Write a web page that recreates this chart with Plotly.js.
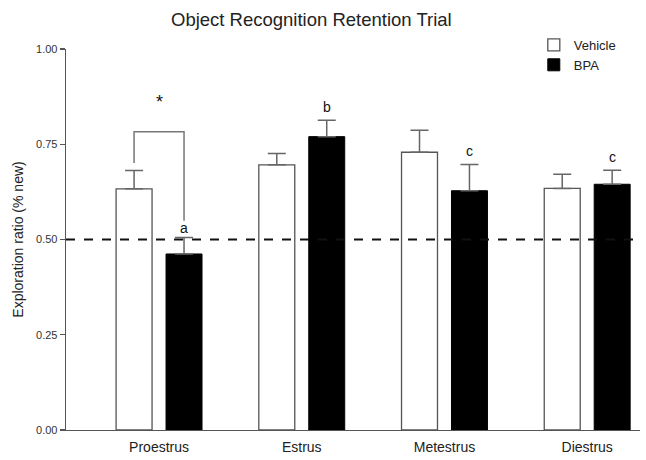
<!DOCTYPE html>
<html>
<head>
<meta charset="utf-8">
<script src="https://cdn.plot.ly/plotly-3.0.1.min.js"></script>
<style>
  html, body { margin: 0; padding: 0; background: #fff; }
  #chart { width: 646px; height: 460px; }
</style>
</head>
<body>
<div id="chart"></div>
<script>
// Estrous cycle phases on the x axis
const phases = ["Proestrus", "Estrus", "Metestrus", "Diestrus"];

// Mean exploration ratio per group and its SEM (upper bar only)
const vehicleMean = [0.633, 0.696, 0.729, 0.634];
const vehicleSem  = [0.048, 0.030, 0.058, 0.037];
const bpaMean     = [0.462, 0.770, 0.628, 0.645];
const bpaSem      = [0.043, 0.043, 0.069, 0.037];

// Significance letters over the BPA bars
const bpaLetters = ["a", "b", "c", "c"];

// Chance level
const chanceLevel = 0.5;

const fontFamily = "Liberation Sans, Arial, sans-serif";
const halfGroup = 0.175;   // offset of each bar from its category centre

const vehicle = {
  type: "bar",
  name: "Vehicle",
  x: phases,
  y: vehicleMean,
  marker: { color: "#ffffff", line: { color: "#555555", width: 1.3 } },
  error_y: {
    type: "data", symmetric: false,
    array: vehicleSem, arrayminus: vehicleMean.map(() => 0),
    color: "#666666", thickness: 1.5, width: 9
  },
  hoverinfo: "skip"
};

const bpa = {
  type: "bar",
  name: "BPA",
  x: phases,
  y: bpaMean,
  marker: { color: "#000000", line: { color: "#000000", width: 1 } },
  error_y: {
    type: "data", symmetric: false,
    array: bpaSem, arrayminus: bpaMean.map(() => 0),
    color: "#666666", thickness: 1.5, width: 9
  },
  hoverinfo: "skip"
};

// Bracket comparing Vehicle vs BPA in proestrus
const vTop = vehicleMean[0] + vehicleSem[0];
const bTop = bpaMean[0] + bpaSem[0];
const bracketY = 0.783;
const shapes = [
  {
    type: "line", xref: "paper", yref: "y",
    x0: 0, x1: 1, y0: chanceLevel, y1: chanceLevel,
    line: { color: "#111111", width: 2, dash: "dash" }
  },
  {
    type: "path", xref: "x", yref: "y",
    path: `M ${-halfGroup} ${vTop + 0.02} L ${-halfGroup} ${bracketY} ` +
          `L ${halfGroup} ${bracketY} L ${halfGroup} ${bTop + 0.044}`,
    line: { color: "#777777", width: 1.5 }
  }
];

const annotations = [
  {
    x: 0, y: 0.862, xref: "x", yref: "y", text: "*", showarrow: false,
    font: { family: fontFamily, size: 18, color: "#111111" }
  },
  {
    x: 0.4285, y: 1.0, xref: "paper", yref: "paper",
    xanchor: "center", yanchor: "bottom", yshift: 17,
    text: "Object Recognition Retention Trial", showarrow: false,
    font: { family: fontFamily, size: 18.5, color: "#222222" }
  }
];
bpaLetters.forEach((letter, i) => {
  annotations.push({
    x: i + halfGroup, y: bpaMean[i] + bpaSem[i], xref: "x", yref: "y",
    text: letter, showarrow: false, yanchor: "bottom", yshift: i === 0 ? 0 : 3,
    font: { family: fontFamily, size: 14, color: "#111111" }
  });
});

const layout = {
  width: 646, height: 460,
  margin: { l: 66, r: 6, t: 49, b: 30 },
  paper_bgcolor: "#ffffff",
  plot_bgcolor: "#ffffff",
  barmode: "group",
  bargap: 0.3,
  bargroupgap: 0.28,
  showlegend: true,
  legend: {
    x: 0.815, y: 1.05, xanchor: "left", yanchor: "top",
    bgcolor: "rgba(0,0,0,0)",
    font: { family: fontFamily, size: 13, color: "#222222" },
    tracegroupgap: 0
  },
  xaxis: {
    type: "category",
    range: [-0.652, 3.37],
    showline: true, linecolor: "#555555", linewidth: 1.3,
    ticks: "", showgrid: false, zeroline: false,
    ticklabelstandoff: 4,
    tickfont: { family: fontFamily, size: 14, color: "#222222" }
  },
  yaxis: {
    range: [0, 1],
    tickvals: [0, 0.25, 0.5, 0.75, 1.0],
    tickformat: ".2f",
    showline: true, linecolor: "#555555", linewidth: 1.3,
    ticks: "outside", ticklen: 5, tickcolor: "#555555", tickwidth: 1.3,
    showgrid: false, zeroline: false,
    tickfont: { family: fontFamily, size: 11, color: "#333333" },
    title: {
      text: "Exploration ratio (% new)",
      font: { family: fontFamily, size: 14, color: "#222222" },
      standoff: 9
    }
  },
  shapes: shapes,
  annotations: annotations
};

Plotly.newPlot("chart", [vehicle, bpa], layout, { displayModeBar: false, staticPlot: true });
</script>
</body>
</html>
